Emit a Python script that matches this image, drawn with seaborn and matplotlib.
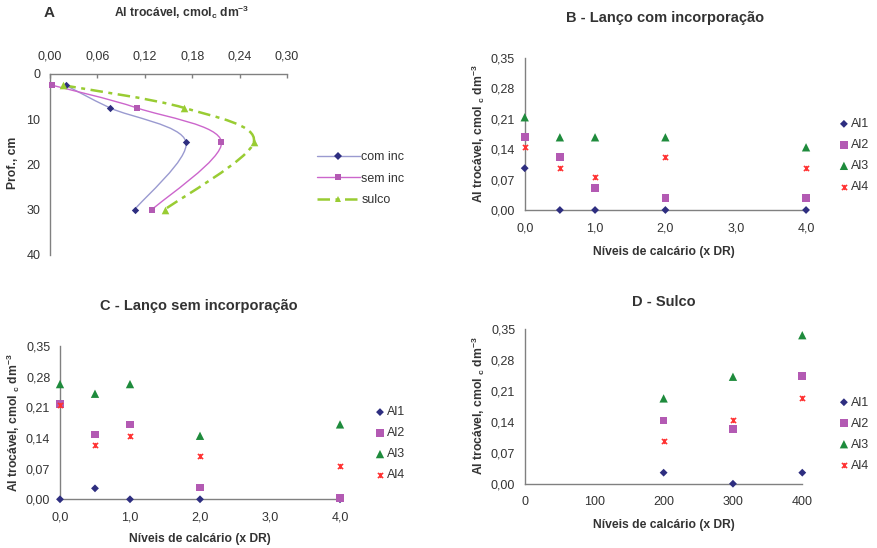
import numpy as np
import pandas as pd
import matplotlib
matplotlib.use("Agg")
import matplotlib.pyplot as plt
from matplotlib.path import Path
from matplotlib.patches import PathPatch
from matplotlib.lines import Line2D
from matplotlib.ticker import FuncFormatter, MultipleLocator
import seaborn as sns

# ---------------- data ----------------
# Panel A: depth profile
depth = [2.5, 7.5, 15, 30]
com_inc = [0.020, 0.076, 0.172, 0.107]
sem_inc = [0.003, 0.110, 0.217, 0.129]
sulco = [0.017, 0.170, 0.258, 0.145]

# Panel B: Lanço com incorporação
levels_B = [0.0, 0.5, 1.0, 2.0, 4.0]
B_Al1 = [0.096, 0.0, 0.0, 0.0, 0.0]
B_Al2 = [0.168, 0.122, 0.050, 0.028, 0.028]
B_Al3 = [0.213, 0.167, 0.167, 0.167, 0.144]
B_Al4 = [0.145, 0.096, 0.076, 0.122, 0.096]

# Panel C: Lanço sem incorporação
levels_C = [0.0, 0.5, 1.0, 2.0, 4.0]
C_Al1 = [0.0, 0.025, 0.0, 0.0, 0.0]
C_Al2 = [0.217, 0.148, 0.171, 0.027, 0.003]
C_Al3 = [0.263, 0.241, 0.263, 0.145, 0.171]
C_Al4 = [0.215, 0.123, 0.145, 0.098, 0.075]

# Panel D: Sulco
levels_D = [200, 300, 400]
D_Al1 = [0.025, 0.0, 0.025]
D_Al2 = [0.143, 0.124, 0.244]
D_Al3 = [0.193, 0.242, 0.336]
D_Al4 = [0.097, 0.144, 0.193]

series_names = ["Al1", "Al2", "Al3", "Al4"]
profile_names = ["com inc", "sem inc", "sulco"]

# ---------------- style ----------------
sns.set_theme(style="white")
plt.rcParams["font.family"] = ["Liberation Sans", "DejaVu Sans"]
plt.rcParams["mathtext.fontset"] = "custom"
plt.rcParams["mathtext.rm"] = "Liberation Sans:bold"
plt.rcParams["mathtext.default"] = "regular"

TXT = "#333333"
SPINE = "#808080"
TICKFS = 9

# star marker (x with vertical bar) like Excel
star_path = Path([(-1, -1), (1, 1), (-1, 1), (1, -1), (0, -1), (0, 1)],
                 [Path.MOVETO, Path.LINETO, Path.MOVETO, Path.LINETO, Path.MOVETO, Path.LINETO])

mstyle = {
    "Al1": dict(marker="D", color="#2E2E80", s=16, linewidths=0),
    "Al2": dict(marker="s", color="#B35AB3", s=30, linewidths=0),
    "Al3": dict(marker="^", color="#1E8B3C", s=36, linewidths=0),
    "Al4": dict(marker=star_path, color="#FF3333", s=14, linewidths=1.1),
}

comma2 = FuncFormatter(lambda v, p: f"{v:.2f}".replace(".", ","))
comma1 = FuncFormatter(lambda v, p: f"{v:.1f}".replace(".", ","))
intfmt = FuncFormatter(lambda v, p: f"{v:.0f}")

fig = plt.figure(figsize=(8.77, 5.48), dpi=100)


def style_axes(ax):
    for side in ["top", "right"]:
        ax.spines[side].set_visible(False)
    for side in ["left", "bottom"]:
        ax.spines[side].set_color(SPINE)
        ax.spines[side].set_linewidth(1.0)
    ax.tick_params(axis="both", which="major", direction="out", length=3, width=1,
                   color=SPINE, labelsize=TICKFS, labelcolor=TXT, pad=4)
    ax.tick_params(axis="x", pad=6)
    ax.grid(False)


def scatter_panel(ax, x, ys, xmax, xstep, xfmt, legend_anchor):
    for name, y in zip(series_names, ys):
        df = pd.DataFrame({"x": x, "y": y})
        st = mstyle[name]
        sns.scatterplot(data=df, x="x", y="y", ax=ax, marker=st["marker"],
                        color=st["color"], s=st["s"], linewidth=st["linewidths"],
                        edgecolor=st["color"] if name == "Al4" else "none",
                        label=name, clip_on=False, zorder=3)
    ax.set_xlim(0, xmax)
    ax.set_ylim(0, 0.35)
    ax.xaxis.set_major_locator(MultipleLocator(xstep))
    ax.yaxis.set_major_locator(MultipleLocator(0.07))
    ax.xaxis.set_major_formatter(xfmt)
    ax.yaxis.set_major_formatter(comma2)
    ax.set_xlabel("")
    ax.set_ylabel("")
    style_axes(ax)
    handles, labels = ax.get_legend_handles_labels()
    ax.legend(handles, labels, loc="center left", bbox_to_anchor=legend_anchor,
              bbox_transform=fig.transFigure, frameon=False, fontsize=TICKFS,
              handlelength=0.6, handletextpad=0.25, labelspacing=0.72,
              borderpad=0, borderaxespad=0, labelcolor=TXT)


# ---------------- Panel A ----------------
axA = fig.add_axes([0.057, 0.5347, 0.2703, 0.3303])
prof_colors = {"com inc": "#9A9AD0", "sem inc": "#CC66CC", "sulco": "#99CC33"}
prof_mcolors = {"com inc": "#2E2E80", "sem inc": "#B35AB3", "sulco": "#99CC33"}
prof_markers = {"com inc": "D", "sem inc": "s", "sulco": "^"}
prof_msize = {"com inc": 14, "sem inc": 22, "sulco": 30}
prof_ls = {"com inc": "-", "sem inc": "-", "sulco": (0, (5, 2.2, 1.6, 2.2))}
prof_lw = {"com inc": 1.0, "sem inc": 1.0, "sulco": 1.8}


def smooth_path(xs, ys):
    P = np.column_stack([xs, ys]).astype(float)
    n = len(P)
    verts = [P[0]]
    codes = [Path.MOVETO]
    for i in range(n - 1):
        p0 = P[i - 1] if i > 0 else P[i]
        p1 = P[i]
        p2 = P[i + 1]
        p3 = P[i + 2] if i + 2 < n else P[i + 1]
        c1 = p1 + (p2 - p0) / 6.0
        c2 = p2 - (p3 - p1) / 6.0
        verts += [c1, c2, p2]
        codes += [Path.CURVE4] * 3
    return Path(verts, codes)


handlesA = []
for name, vals in zip(profile_names, [com_inc, sem_inc, sulco]):
    patch = PathPatch(smooth_path(vals, depth), fill=False, edgecolor=prof_colors[name],
                      linewidth=prof_lw[name], linestyle=prof_ls[name], zorder=2)
    axA.add_patch(patch)
    df = pd.DataFrame({"x": vals, "y": depth})
    sns.scatterplot(data=df, x="x", y="y", ax=axA, marker=prof_markers[name],
                    color=prof_mcolors[name], s=prof_msize[name], linewidth=0,
                    zorder=3, clip_on=False, legend=False)
    handlesA.append(Line2D([0], [0], color=prof_colors[name], lw=prof_lw[name],
                           ls=prof_ls[name], marker=prof_markers[name],
                           markerfacecolor=prof_mcolors[name], markeredgewidth=0,
                           markersize=5 if name != "com inc" else 4))

axA.set_xlim(0, 0.30)
axA.set_ylim(40, 0)
axA.xaxis.set_major_locator(MultipleLocator(0.06))
axA.yaxis.set_major_locator(MultipleLocator(10))
axA.xaxis.set_major_formatter(comma2)
axA.xaxis.tick_top()
axA.set_xlabel("")
axA.set_ylabel("")
for side in ["bottom", "right"]:
    axA.spines[side].set_visible(False)
for side in ["left", "top"]:
    axA.spines[side].set_color(SPINE)
    axA.spines[side].set_linewidth(1.0)
axA.tick_params(axis="y", direction="out", length=3, width=1, color=SPINE,
                labelsize=TICKFS, labelcolor=TXT, pad=4)
axA.tick_params(axis="x", direction="in", length=3, width=1, color=SPINE,
                labelsize=TICKFS, labelcolor=TXT, pad=8, top=True, bottom=False)
axA.grid(False)
axA.legend(handlesA, profile_names, loc="center left", bbox_to_anchor=(0.3615, 0.674),
           bbox_transform=fig.transFigure, frameon=False, fontsize=TICKFS,
           handlelength=3.4, handletextpad=0.15, labelspacing=0.78,
           borderpad=0, borderaxespad=0, labelcolor=TXT)

fig.text(0.056, 0.977, "A", ha="center", va="center", fontsize=11, fontweight="bold", color=TXT)
fig.text(0.207, 0.977, r"Al trocável, cmol$_{c}$ dm$^{-3}$", ha="center", va="center",
         fontsize=8.7, fontweight="bold", color=TXT)
fig.text(0.0148, 0.7026, "Prof., cm", ha="center", va="center", rotation=90,
         fontsize=8.7, fontweight="bold", color=TXT)

# ---------------- Panel B ----------------
axB = fig.add_axes([0.5983, 0.6168, 0.3208, 0.2780])
scatter_panel(axB, levels_B, [B_Al1, B_Al2, B_Al3, B_Al4], 4, 1, comma1, (0.958, 0.716))

# ---------------- Panel C ----------------
axC = fig.add_axes([0.0684, 0.0889, 0.3193, 0.2797])
scatter_panel(axC, levels_C, [C_Al1, C_Al2, C_Al3, C_Al4], 4, 1, comma1, (0.429, 0.190))

# ---------------- Panel D ----------------
axD = fig.add_axes([0.5986, 0.1173, 0.3162, 0.2823])
scatter_panel(axD, levels_D, [D_Al1, D_Al2, D_Al3, D_Al4], 400, 100, intfmt, (0.958, 0.208))

ylab = r"Al trocável, cmol $_{c}$ dm$^{-3}$"
xlab = "Níveis de calcário (x DR)"
titles = [
    (0.758, 0.9666, "B - Lanço com incorporação"),
    (0.227, 0.4416, "C - Lanço sem incorporação"),
    (0.757, 0.4494, "D - Sulco"),
]
for x, y, t in titles:
    fig.text(x, y, t, ha="center", va="center", fontsize=10.5, fontweight="bold", color=TXT)

for x, y in [(0.545, 0.7555), (0.0148, 0.2288), (0.545, 0.259)]:
    fig.text(x, y, ylab, ha="center", va="center", rotation=90, fontsize=8.7,
             fontweight="bold", color=TXT)
for x, y in [(0.757, 0.5407), (0.228, 0.0164), (0.757, 0.042)]:
    fig.text(x, y, xlab, ha="center", va="center", fontsize=8.7, fontweight="bold", color=TXT)

fig.savefig("out.png", dpi=100)
